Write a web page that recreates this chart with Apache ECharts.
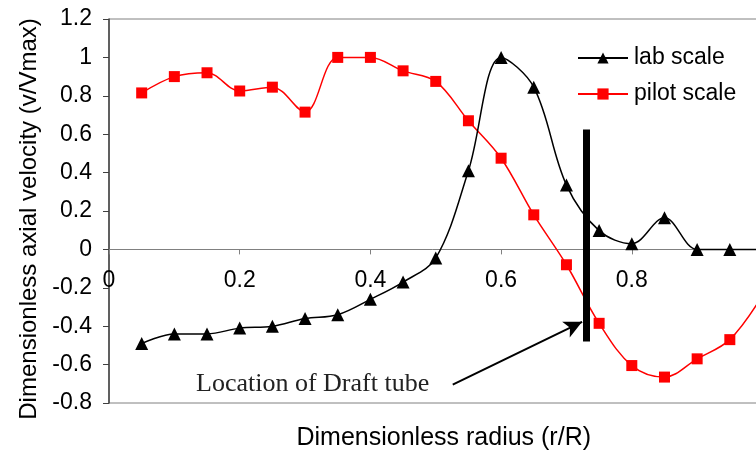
<!DOCTYPE html>
<html>
<head>
<meta charset="utf-8">
<script src="https://cdn.jsdelivr.net/npm/echarts@6/dist/echarts.min.js"></script>
<style>
  html, body { margin: 0; padding: 0; background: #fff; }
  #chart { width: 756px; height: 453px; }
</style>
</head>
<body>
<div id="chart"></div>
<script>
// Radial positions r/R
const radius = [0.05, 0.10, 0.15, 0.20, 0.25, 0.30, 0.35, 0.40, 0.45, 0.50,
                0.55, 0.60, 0.65, 0.70, 0.75, 0.80, 0.85, 0.90, 0.95, 1.00];

// Dimensionless axial velocity v/Vmax
const labScale = [-0.49, -0.44, -0.44, -0.41, -0.40, -0.36, -0.34, -0.26, -0.17, -0.045,
                   0.41, 1.00, 0.845, 0.335, 0.098, 0.03, 0.165, 0.0, 0.0, 0.0];
const pilotScale = [0.815, 0.90, 0.92, 0.825, 0.845, 0.715, 1.00, 1.00, 0.93, 0.875,
                    0.67, 0.475, 0.18, -0.08, -0.385, -0.605, -0.665, -0.57, -0.47, -0.24];

const seriesNames = ['lab scale', 'pilot scale'];

// Draft tube wall position and the annotation arrow (data coordinates)
const draftTubeR = 0.73;
const draftTubeSpan = [-0.48, 0.625];
const arrowFrom = [0.526, -0.704];
const arrowTo = [0.724, -0.377];
const noteText = 'Location of Draft tube';

const Y_MIN = -0.8, Y_MAX = 1.2, Y_STEP = 0.2;

const pairs = (xs, ys) => xs.map((x, i) => [x, ys[i]]);
const fmt = v => String(+v.toFixed(1));
const FONT = 'Liberation Sans, Arial, sans-serif';

const chart = echarts.init(document.getElementById('chart'), null, { renderer: 'canvas' });

chart.setOption({
  animation: false,
  backgroundColor: '#fff',
  textStyle: { fontFamily: FONT },
  grid: {
    left: 109, top: 19, bottom: 50, right: -6.5,
    outerBoundsMode: 'none',
    containLabel: false,
    show: true, borderColor: '#808080', borderWidth: 1
  },
  legend: {
    orient: 'vertical',
    left: 577, top: 45,
    padding: 0,
    itemWidth: 50, itemHeight: 14, itemGap: 10,
    textStyle: { fontSize: 23, color: '#000', fontFamily: FONT, lineHeight: 26, padding: [0, 0, 0, 1] },
    data: seriesNames
  },
  xAxis: {
    type: 'value', min: 0, max: 1, interval: 0.2,
    position: 'bottom',
    name: 'Dimensionless radius (r/R)',
    nameLocation: 'middle', nameGap: 176,
    nameTextStyle: { fontSize: 25, color: '#000', fontFamily: FONT, padding: [0, 0, 0, 16] },
    axisLine: { onZero: false, lineStyle: { color: '#808080', width: 1 } },
    axisTick: { show: true, inside: false, length: 5, lineStyle: { color: '#808080' } },
    axisLabel: { fontSize: 23, color: '#000', margin: 20, formatter: fmt, showMaxLabel: false, fontFamily: FONT },
    splitLine: { show: false }
  },
  yAxis: {
    type: 'value', min: Y_MIN, max: Y_MAX, interval: Y_STEP,
    name: 'Dimensionless axial velocity (v/Vmax)',
    nameLocation: 'middle', nameGap: 67,
    nameTextStyle: { fontSize: 24, color: '#000', fontFamily: FONT, padding: [0, 16, 0, 0] },
    axisLine: { show: true, onZero: false, lineStyle: { color: '#404040', width: 1.5 } },
    axisTick: { show: true, inside: false, length: 6, lineStyle: { color: '#404040' } },
    axisLabel: { fontSize: 23, color: '#000', margin: 17, formatter: fmt, fontFamily: FONT },
    splitLine: { show: false }
  },
  series: [
    {
      name: seriesNames[0],
      type: 'line',
      data: pairs(radius, labScale),
      smooth: 0.35,
      symbol: 'triangle', symbolSize: 13,
      itemStyle: { color: '#000' },
      lineStyle: { color: '#000', width: 1.5 },
      z: 3,
      markLine: {
        silent: true,
        symbol: ['none', 'none'],
        label: { show: false },
        lineStyle: { color: '#000', width: 7, type: 'solid' },
        data: [[
          { coord: [draftTubeR, draftTubeSpan[1]] },
          { coord: [draftTubeR, draftTubeSpan[0]] }
        ]],
        z: 6
      }
    },
    {
      name: seriesNames[1],
      type: 'line',
      data: pairs(radius, pilotScale),
      smooth: 0.35,
      symbol: 'rect', symbolSize: 11,
      itemStyle: { color: '#ff0000' },
      lineStyle: { color: '#ff0000', width: 1.5 },
      z: 2,
      markLine: {
        silent: true,
        symbol: ['none', 'arrow'],
        symbolSize: [13, 18],
        label: { show: false },
        lineStyle: { color: '#000', width: 2, type: 'solid' },
        data: [[
          { coord: arrowFrom },
          { coord: arrowTo }
        ]],
        z: 6
      }
    }
  ],
  graphic: [{
    type: 'text',
    left: 196, top: 371,
    style: {
      text: noteText,
      font: '26px "Liberation Serif", "DejaVu Serif", serif',
      fill: '#222'
    }
  }]
});

// Lift the x axis so it crosses the y axis at zero velocity
const zeroY = chart.convertToPixel({ yAxisIndex: 0 }, 0);
const bottomY = chart.convertToPixel({ yAxisIndex: 0 }, Y_MIN);
chart.setOption({ xAxis: { offset: zeroY - bottomY } });
</script>
</body>
</html>
